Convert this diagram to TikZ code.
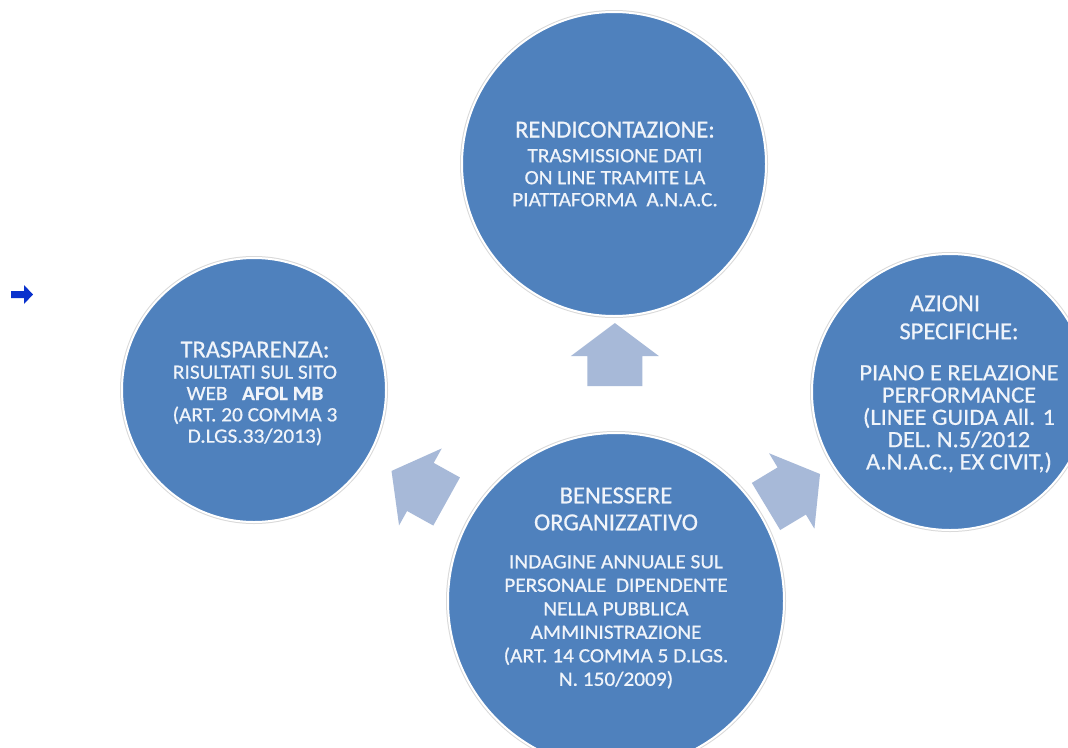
\documentclass[tikz,border=0pt]{standalone}
\usepackage{fontspec}
\setmainfont{Carlito}[FakeStretch=1.05,FakeBold=0.6]
\newfontfamily\titlefont{Carlito}[FakeBold=0.6]
\usetikzlibrary{calc}
\definecolor{bubblefill}{RGB}{79,129,189}
\definecolor{arrowfill}{RGB}{167,185,216}
\definecolor{txtcol}{RGB}{240,244,250}
\definecolor{bulletblue}{RGB}{10,50,205}
\tikzset{
  bubble/.style={circle, fill=bubblefill, draw=white, line width=2pt, inner sep=0pt,
    preaction={draw=black!15, line width=4pt}},
  bubbletext/.style={text=txtcol, align=center, inner sep=0pt},
  blockarrow/.pic={\fill[arrowfill] (31.5,0) -- (-1.5,44) -- (-1.5,27.5) -- (-31.5,27.5)
      -- (-31.5,-27.5) -- (-1.5,-27.5) -- (-1.5,-44) -- cycle;}
}
\newcommand{\ttl}[1]{{\titlefont\fontsize{24.5}{22}\selectfont #1}}
\begin{document}
\begin{tikzpicture}[x=1pt,y=-1pt]
\useasboundingbox (0,0) rectangle (1068,747);
\clip (0,0) rectangle (1068,747);
\fill[white] (0,0) rectangle (1068,747);

% circles
\node[bubble, minimum size=304pt] (top) at (614,164) {};
\node[bubble, minimum size=264pt] (left) at (254,390) {};
\node[bubble, minimum size=276pt] (right) at (950,392) {};
\node[bubble, minimum size=336pt] (bot) at (616,601) {};

% block arrows
\pic[rotate=90] at ($(bot)!0.564!(top)$) {blockarrow};
\pic[rotate=151] at ($(bot)!0.544!(left)$) {blockarrow};
\pic[rotate=31] at ($(bot)!0.53!(right)$) {blockarrow};

% bullet arrow
\fill[bulletblue] (11,291) -- (24,291) -- (24,285) -- (33,294.5) -- (24,304) -- (24,298) -- (11,298) -- cycle;

% texts
\node[bubbletext, font=\fontsize{20.3}{22}\selectfont] (ttop) at (615,164)
  {\ttl{RENDICONTAZIONE:}\\[2.7pt] TRASMISSIONE DATI\\ ON LINE TRAMITE LA\\ PIATTAFORMA\ \ A.N.A.C.};
\node[bubbletext, font=\fontsize{20.3}{21.3}\selectfont] (tleft) at (255,393.5)
  {\ttl{TRASPARENZA:}\\ RISULTATI SUL SITO\\ WEB\ \ \ \textbf{AFOL MB}\hspace*{39pt}\\ (ART. 20 COMMA 3\\ D.LGS.33/2013)};
\node[bubbletext, font=\fontsize{23.3}{22.3}\selectfont] (tright) at (959,384)
  {\ttl{AZIONI}\hspace*{28pt}\\[5.7pt] \ttl{SPECIFICHE:}\hspace*{28pt}\\[18.7pt] PIANO E RELAZIONE\\ PERFORMANCE\\ (LINEE GUIDA All. 1\\ DEL. N.5/2012\\ A.N.A.C., EX CIVIT,)};
\node[bubbletext, font=\fontsize{20.3}{23.5}\selectfont] (tbot) at (616,588)
  {\ttl{BENESSERE}\\[3.5pt] \ttl{ORGANIZZATIVO}\\[14.5pt] INDAGINE ANNUALE SUL\\ PERSONALE\ \ DIPENDENTE\\ NELLA PUBBLICA\\ AMMINISTRAZIONE\\ (ART. 14 COMMA 5 D.LGS.\\ N. 150/2009)};
\end{tikzpicture}
\end{document}
